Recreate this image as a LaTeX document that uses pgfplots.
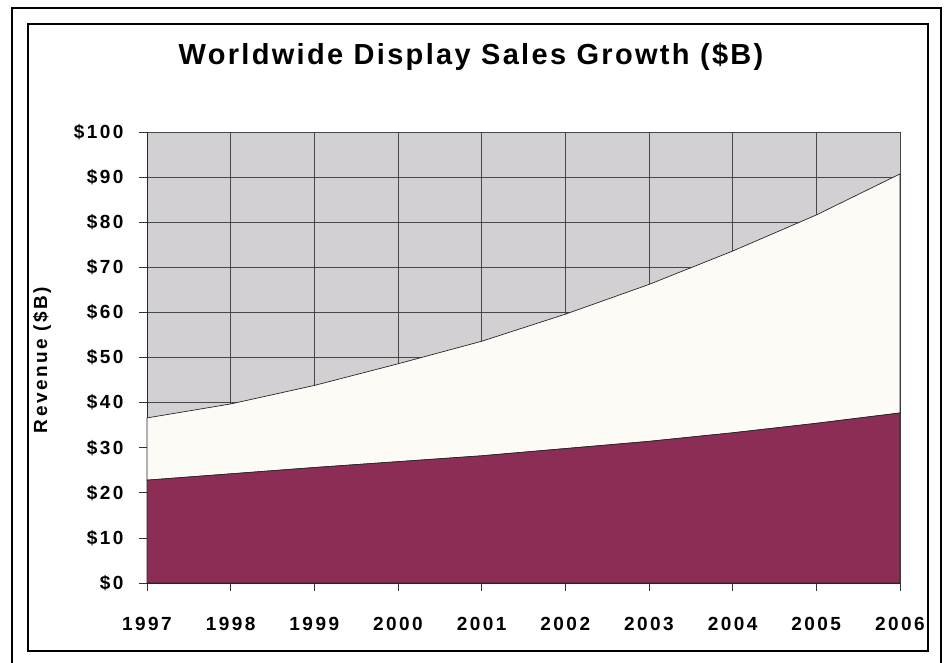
\documentclass[border=0pt]{standalone}
\usepackage{pgfplots}
\pgfplotsset{compat=1.18}
\usepackage{fontspec}
\setmainfont{Liberation Sans}
\newfontfamily\wide[LetterSpace=13]{Liberation Sans}
\newfontfamily\titlefont[LetterSpace=8]{Liberation Sans}

\definecolor{crt}{RGB}{139,45,85}
\definecolor{fpd}{RGB}{252,251,246}
\definecolor{bg}{RGB}{210,208,210}
\definecolor{gridc}{RGB}{70,70,75}

\begin{document}
\begin{tikzpicture}
  \useasboundingbox (0,0) rectangle (948pt,663pt);
  % frames
  \draw[line width=1.3pt] (12pt,-20pt) -- (12pt,655pt) -- (941pt,655pt) -- (941pt,-20pt);
  \draw[line width=1.8pt] (28pt,12pt) rectangle (928pt,639pt);

  \node[font=\titlefont\bfseries\fontsize{29}{32}\selectfont, anchor=base] at (471pt,598pt)
    {Worldwide Display Sales Growth (\$B)};
  \node[font=\wide\bfseries\fontsize{19}{22}\selectfont, rotate=90] at (42pt,303pt)
    {Revenue (\$B)};

  \begin{axis}[
    at={(147pt,80pt)}, anchor=south west,
    scale only axis, width=753pt, height=451pt,
    xmin=1997, xmax=2006, ymin=0, ymax=100,
    xtick={1997,...,2006}, ytick={0,10,...,100},
    axis lines*=left,
    axis line style={line width=0.8pt, black!85},
    axis background/.style={fill=bg},
    grid=major,
    grid style={gridc, line width=0.6pt},
    tick align=outside, major tick length=8pt,
    tick style={black!80, line width=0.6pt},
    /pgf/number format/assume math mode=true,
    /pgf/number format/1000 sep={},
    ticklabel style={font=\wide\bfseries\fontsize{19}{22}\selectfont},
    yticklabel={\$\pgfmathprintnumber{\tick}},
    xticklabel style={yshift=-23pt},
    yticklabel style={xshift=-12pt},
    stack plots=y,
    clip=false,
  ]
    % CRT
    \addplot[fill=crt, draw=black!85, line width=0.7pt] coordinates {
      (1997,22.8) (1998,24.2) (1999,25.6) (2000,26.9) (2001,28.2)
      (2002,29.8) (2003,31.4) (2004,33.3) (2005,35.4) (2006,37.7)
    } \closedcycle;
    % Flat panel displays
    \addplot[fill=fpd, draw=black!85, line width=0.7pt] coordinates {
      (1997,13.8) (1998,15.5) (1999,18.2) (2000,21.7) (2001,25.4)
      (2002,29.8) (2003,34.8) (2004,40.3) (2005,46.2) (2006,53.0)
    } \closedcycle;

    \node[font=\wide\bfseries\fontsize{19}{22}\selectfont, anchor=base] at (axis cs:2003.1,44.6)
      {Flat Panel Displays};
    \node[font=\wide\bfseries\fontsize{19}{22}\selectfont, white, anchor=base] at (axis cs:2002.92,14.4)
      {CRT};
  \end{axis}
\end{tikzpicture}
\end{document}
